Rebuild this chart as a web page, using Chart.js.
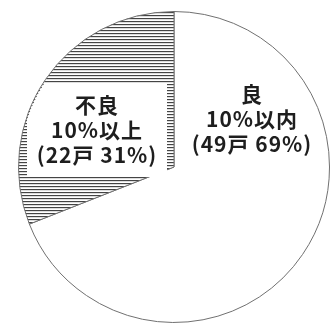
<!DOCTYPE html>
<html lang="ja">
<head>
<meta charset="utf-8">
<script src="https://cdn.jsdelivr.net/npm/chart.js@4.4.1/dist/chart.umd.min.js"></script>
<style>
  html, body { margin: 0; padding: 0; background: #fff; }
  #wrap { width: 332px; height: 324px; }
</style>
</head>
<body>
<div id="wrap"><canvas id="chart" width="332" height="324"></canvas></div>
<script>
// Data
const categories = ['良', '不良'];
const ranges = ['10%以内', '10%以上'];
const households = [49, 22];
const shares = [69, 31];

// Label placement (offset of label centre from pie centre)
const labelOffsets = [{ dx: 78, dy: -48 }, { dx: -77, dy: -37 }];

// Horizontal hatch for the "不良" slice
function makeHatch() {
    const c = document.createElement('canvas');
    c.width = 4;
    c.height = 3;
    const g = c.getContext('2d');
    g.fillStyle = '#ffffff';
    g.fillRect(0, 0, 4, 3);
    g.fillStyle = '#444444';
    g.fillRect(0, 0, 4, 1);
    g.fillStyle = '#dddddd';
    g.fillRect(0, 1, 4, 1);
    return g.createPattern(c, 'repeat');
}

// Draw the text labels (and the white box behind the "不良" one)
const pieLabels = {
    id: 'pieLabels',
    afterDatasetsDraw(chart) {
        const ctx = chart.ctx;
        const arcs = chart.getDatasetMeta(0).data;
        const cx = arcs[0].x;
        const cy = arcs[0].y;
        const r = arcs[0].outerRadius;

        ctx.save();
        // white box behind the hatched label, clipped to the pie
        const b = labelOffsets[1];
        ctx.beginPath();
        ctx.arc(cx, cy, r - 1, 0, Math.PI * 2);
        ctx.clip();
        ctx.fillStyle = '#ffffff';
        ctx.fillRect(cx + b.dx - 70, cy + b.dy - 47, 140, 94);
        ctx.restore();

        ctx.save();
        ctx.fillStyle = '#1e1e1e';
        ctx.font = 'bold 21px "Noto Sans CJK JP"';
        ctx.textAlign = 'center';
        ctx.textBaseline = 'middle';
        ctx.letterSpacing = '1px';
        categories.forEach((cat, i) => {
            const x = cx + labelOffsets[i].dx;
            const y = cy + labelOffsets[i].dy;
            const lines = [cat, ranges[i], '(' + households[i] + '戸 ' + shares[i] + '%)'];
            lines.forEach((t, k) => {
                ctx.fillText(t, x, y + (k - 1) * 25);
            });
        });
        ctx.restore();
    }
};

const chart = new Chart(document.getElementById('chart'), {
    type: 'pie',
    data: {
        labels: categories,
        datasets: [{
            data: households,
            backgroundColor: ['#ffffff', makeHatch()],
            borderColor: '#707070',
            borderWidth: 1
        }]
    },
    options: {
        responsive: false,
        animation: false,
        layout: {
            padding: { left: 18, top: 11, right: 2, bottom: 1 }
        },
        plugins: {
            legend: { display: false },
            tooltip: { enabled: false }
        }
    },
    plugins: [pieLabels]
});
</script>
</body>
</html>
